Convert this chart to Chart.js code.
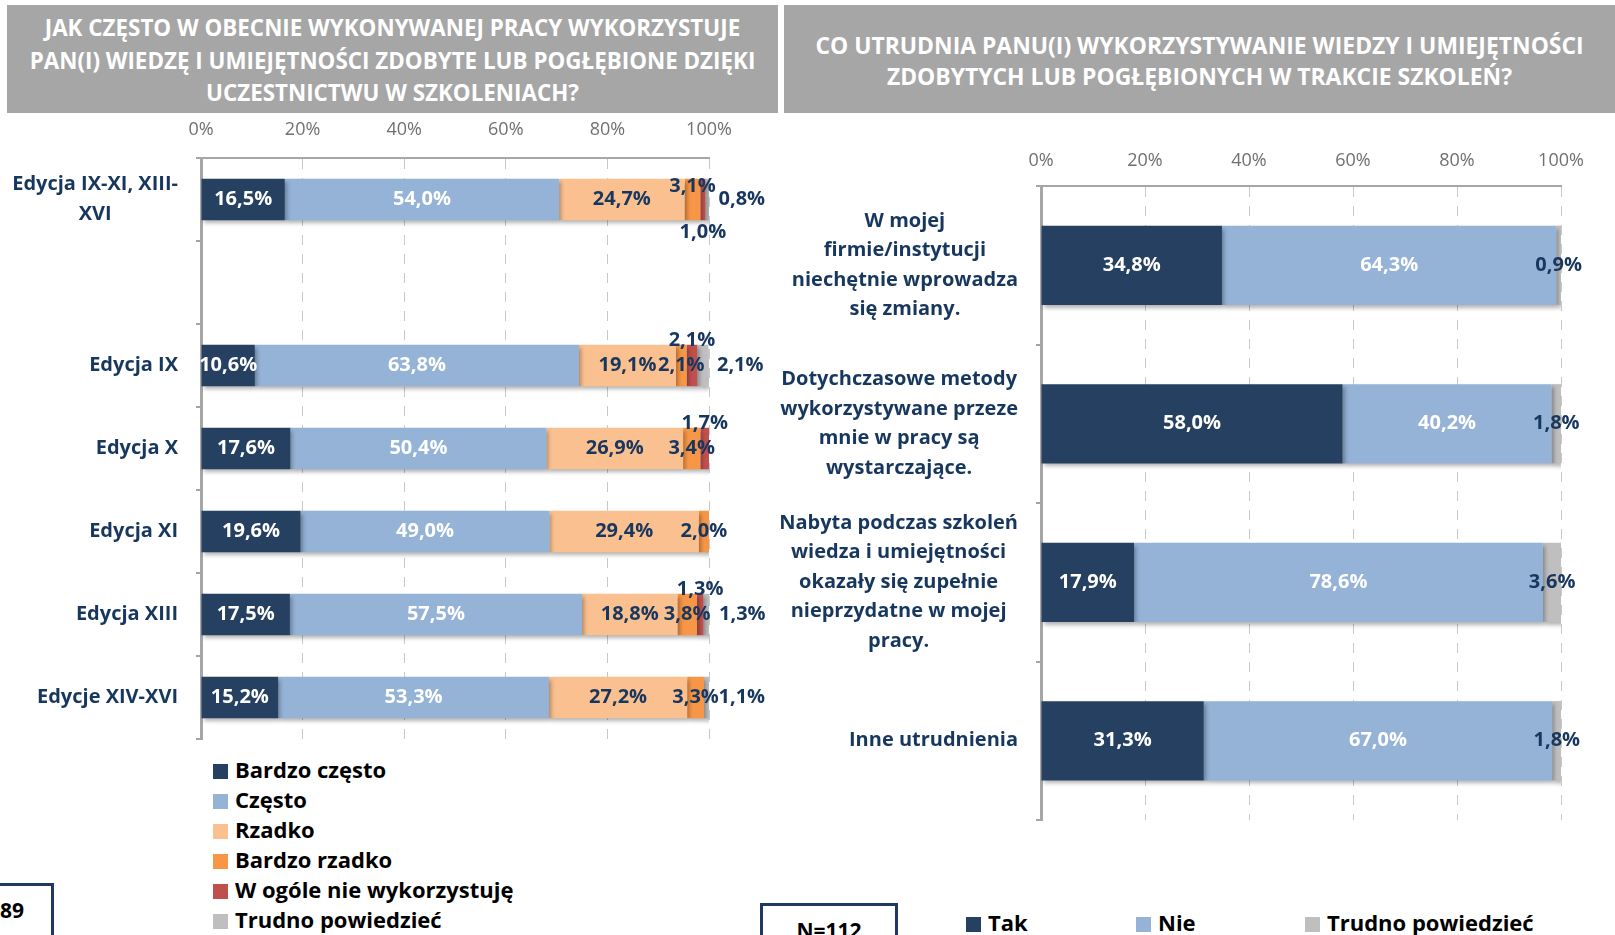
<!DOCTYPE html>
<html>
<head>
<meta charset="utf-8">
<script src="https://cdn.jsdelivr.net/npm/chart.js@4.4.0/dist/chart.umd.min.js"></script>
<style>
  body { margin: 0; width: 1615px; height: 935px; overflow: hidden; background: #fff; position: relative; font-family: 'Open Sans', sans-serif; }
  .title { position: absolute; top: 5px; height: 108px; background: #a6a6a6; color: #fff; font-weight: 700; font-size: 23px; text-align: center; display: flex; align-items: center; justify-content: center; white-space: nowrap; }
  #titleLeft { left: 7px; width: 771px; line-height: 32.5px; padding-top: 4px; height: 104px; font-size: 22.4px; }
  #titleRight { left: 784px; width: 831px; line-height: 31px; padding-top: 4px; height: 104px; font-size: 22.9px; }
  canvas { position: absolute; }
  #leftChart { left: 0; top: 113px; }
  #rightChart { left: 780px; top: 113px; }
  .legend { position: absolute; font-weight: 700; font-size: 22px; color: #000; }
  .legend .item { position: absolute; white-space: nowrap; height: 30px; line-height: 30px; }
  .legend .sq { display: inline-block; width: 15px; height: 15px; vertical-align: middle; margin-right: 7px; position: relative; top: -1px; }
  .box { position: absolute; border: 3px solid #1f3864; background: #fff; font-weight: 700; font-size: 21px; color: #000; }
</style>
</head>
<body>
<div class="title" id="titleLeft">JAK CZĘSTO W OBECNIE WYKONYWANEJ PRACY WYKORZYSTUJE<br>PAN(I) WIEDZĘ I UMIEJĘTNOŚCI ZDOBYTE LUB POGŁĘBIONE DZIĘKI<br>UCZESTNICTWU W SZKOLENIACH?</div>
<div class="title" id="titleRight">CO UTRUDNIA PANU(I) WYKORZYSTYWANIE WIEDZY I UMIEJĘTNOŚCI<br>ZDOBYTYCH LUB POGŁĘBIONYCH W TRAKCIE SZKOLEŃ?</div>

<canvas id="leftChart" width="780" height="640"></canvas>
<canvas id="rightChart" width="835" height="720"></canvas>

<div class="legend" id="legendLeft"></div>
<div class="legend" id="legendRight"></div>

<div class="box" style="left:-3px; top:883px; width:51px; height:60px;"><span style="position:absolute; right:27px; top:10px;">89</span></div>
<div class="box" style="left:760px; top:903px; width:132px; height:40px;"><span style="position:absolute; left:0; right:0; text-align:center; top:10px;">N=112</span></div>

<script>
// left chart data
const leftCategories = [['Edycja IX-XI, XIII-', 'XVI'], '', 'Edycja IX', 'Edycja X', 'Edycja XI', 'Edycja XIII', 'Edycje XIV-XVI'];
const leftSeries = ['Bardzo często', 'Często', 'Rzadko', 'Bardzo rzadko', 'W ogóle nie wykorzystuję', 'Trudno powiedzieć'];
const bardzoCzesto = [16.5, null, 10.6, 17.6, 19.6, 17.5, 15.2];
const czesto = [54.0, null, 63.8, 50.4, 49.0, 57.5, 53.3];
const rzadko = [24.7, null, 19.1, 26.9, 29.4, 18.8, 27.2];
const bardzoRzadko = [3.1, null, 2.1, 3.4, 2.0, 3.8, 3.3];
const wOgoleNie = [1.0, null, 2.1, 1.7, 0, 1.3, 0];
const trudnoLeft = [0.8, null, 2.1, 0, 0, 1.3, 1.1];

// right chart data
const rightCategories = [
    ['W mojej', 'firmie/instytucji', 'niechętnie wprowadza', 'się zmiany.'],
    ['Dotychczasowe metody', 'wykorzystywane przeze', 'mnie w pracy są', 'wystarczające.'],
    ['Nabyta podczas szkoleń', 'wiedza i umiejętności', 'okazały się zupełnie', 'nieprzydatne w mojej', 'pracy.'],
    'Inne utrudnienia'
];
const rightSeries = ['Tak', 'Nie', 'Trudno powiedzieć'];
const tak = [34.8, 58.0, 17.9, 31.3];
const nie = [64.3, 40.2, 78.6, 67.0];
const trudnoRight = [0.9, 1.8, 3.6, 1.8];

const xTicks = [0, 20, 40, 60, 80, 100];

const navy = '#17375e';
const leftColors = ['#254061', '#95b3d7', '#fac090', '#f79646', '#c0504d', '#bfbfbf'];
const rightColors = ['#254061', '#95b3d7', '#bfbfbf'];

Chart.defaults.font.family = "'Open Sans', sans-serif";
Chart.defaults.animation = false;

// soft shadow under the bars, like the Excel original
const barShadow = {
    id: 'barShadow',
    beforeDatasetsDraw(chart) {
        const c = chart.ctx;
        c.save();
        c.shadowColor = 'rgba(0,0,0,0.3)';
        c.shadowBlur = 4;
        c.shadowOffsetX = 2;
        c.shadowOffsetY = 3;
    },
    afterDatasetsDraw(chart) {
        chart.ctx.restore();
    }
};

// percentage labels on the segments
const barLabels = {
    id: 'barLabels',
    afterDatasetsDraw(chart, args, opts) {
        const ctx = chart.ctx;
        ctx.save();
        ctx.font = opts.font;
        chart.data.datasets.forEach((ds, i) => {
            const meta = chart.getDatasetMeta(i);
            meta.data.forEach((bar, j) => {
                const v = ds.data[j];
                if (!v) return;
                const p = bar.getProps(['x', 'y', 'base', 'height'], true);
                let mode = opts.modes[i];
                const key = j + ':' + i;
                if (opts.overrides && opts.overrides[key]) mode = opts.overrides[key];
                let x = (p.x + p.base) / 2, y = p.y;
                ctx.textAlign = 'center';
                ctx.textBaseline = 'middle';
                if (mode === 'above') y = p.y - p.height / 2 - 4;
                else if (mode === 'below') y = p.y + p.height / 2 + 12;
                else if (mode === 'raised') y = p.y - 13;
                else if (mode === 'right') { x = p.x + 9; ctx.textAlign = 'left'; }
                ctx.fillStyle = opts.colors[i];
                ctx.fillText(v.toFixed(1).replace('.', ',') + '%', x, y);
            });
        });
        ctx.restore();
    }
};

// category labels: each block centred on itself, block right-aligned to the axis
const catLabels = {
    id: 'catLabels',
    afterDraw(chart, args, opts) {
        const ctx = chart.ctx, ys = chart.scales.y;
        ctx.save();
        ctx.font = opts.font;
        ctx.fillStyle = opts.color;
        ctx.textAlign = 'center';
        ctx.textBaseline = 'middle';
        chart.data.labels.forEach((lab, i) => {
            const lines = Array.isArray(lab) ? lab : [lab];
            const w = Math.max(...lines.map(l => ctx.measureText(l).width));
            const cx = opts.right - w / 2;
            const cy = ys.getPixelForValue(i);
            lines.forEach((l, k) => ctx.fillText(l, cx, cy + (k - (lines.length - 1) / 2) * opts.lineHeight));
        });
        ctx.restore();
    }
};

function makeScales(xHeight, yWidth, labelPad) {
    return {
        x: {
            position: 'top', stacked: true, min: 0, max: 100,
            afterBuildTicks: s => { s.ticks = xTicks.map(v => ({ value: v })); },
            ticks: { callback: v => v + '%', color: '#707070', font: { size: 18 }, padding: labelPad },
            grid: { color: '#c8c8c8', lineWidth: 1, drawTicks: false },
            border: { color: '#a6a6a6', width: 2, dash: [10, 9] },
            afterFit: s => { s.height = xHeight; }
        },
        y: {
            stacked: true,
            ticks: { display: false },
            grid: { drawOnChartArea: false, color: '#a6a6a6', lineWidth: 2, tickLength: 5 },
            border: { color: '#a6a6a6', width: 3 },
            afterFit: s => { s.width = yWidth; }
        }
    };
}

function makeDatasets(names, arrays, colors) {
    return names.map((n, i) => ({
        label: n,
        data: arrays[i],
        backgroundColor: colors[i],
        borderWidth: 0,
        barPercentage: 0.5,
        categoryPercentage: 1
    }));
}

new Chart(document.getElementById('leftChart'), {
    type: 'bar',
    data: {
        labels: leftCategories,
        datasets: makeDatasets(leftSeries, [bardzoCzesto, czesto, rzadko, bardzoRzadko, wOgoleNie, trudnoLeft], leftColors)
    },
    plugins: [barShadow, barLabels, catLabels],
    options: {
        indexAxis: 'y',
        responsive: false,
        devicePixelRatio: 1,
        layout: { padding: { left: 0, top: 0, right: 71, bottom: 14 } },
        scales: makeScales(45, 201, 17),
        plugins: {
            legend: { display: false },
            tooltip: { enabled: false },
            barLabels: {
                font: "700 20px 'Open Sans', sans-serif",
                modes: ['center', 'center', 'center', 'center', 'above', 'right'],
                colors: ['#fff', '#fff', navy, navy, navy, navy],
                overrides: { '0:3': 'raised', '0:4': 'below' }
            },
            catLabels: { font: "700 20px 'Open Sans', sans-serif", color: navy, right: 178, lineHeight: 30 }
        }
    }
});

new Chart(document.getElementById('rightChart'), {
    type: 'bar',
    data: {
        labels: rightCategories,
        datasets: makeDatasets(rightSeries, [tak, nie, trudnoRight], rightColors)
    },
    plugins: [barShadow, barLabels, catLabels],
    options: {
        indexAxis: 'y',
        responsive: false,
        devicePixelRatio: 1,
        layout: { padding: { left: 0, top: 0, right: 54, bottom: 13 } },
        scales: makeScales(73, 261, 14),
        plugins: {
            legend: { display: false },
            tooltip: { enabled: false },
            barLabels: {
                font: "700 20px 'Open Sans', sans-serif",
                modes: ['center', 'center', 'center'],
                colors: ['#fff', '#fff', navy]
            },
            catLabels: { font: "700 20px 'Open Sans', sans-serif", color: navy, right: 238, lineHeight: 29.5 }
        }
    }
});

// html legends
function buildLegend(el, names, colors, positions) {
    names.forEach((n, i) => {
        const d = document.createElement('div');
        d.className = 'item';
        d.style.left = positions[i][0] + 'px';
        d.style.top = positions[i][1] + 'px';
        d.innerHTML = '<span class="sq" style="background:' + colors[i] + '"></span>' + n;
        el.appendChild(d);
    });
}
buildLegend(document.getElementById('legendLeft'), leftSeries, leftColors,
    leftSeries.map((n, i) => [213, 754 + i * 30]));
buildLegend(document.getElementById('legendRight'), rightSeries, rightColors,
    [[966, 907], [1136, 907], [1305, 907]]);
</script>
</body>
</html>
